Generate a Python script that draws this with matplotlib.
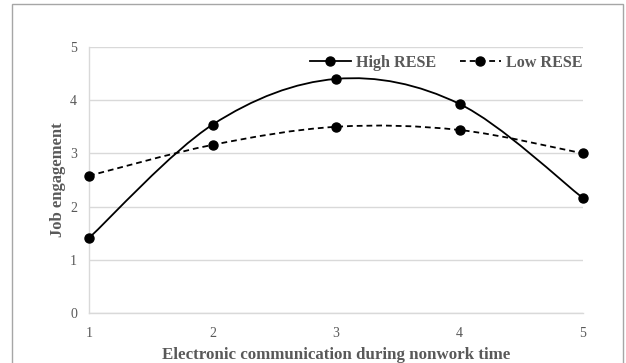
import numpy as np
import matplotlib
matplotlib.use("Agg")
import matplotlib.pyplot as plt
from matplotlib.path import Path
from matplotlib.patches import PathPatch, Rectangle
from matplotlib.lines import Line2D

x_vals = [1, 2, 3, 4, 5]
high_rese = [1.41, 3.54, 4.40, 3.93, 2.16]
low_rese = [2.58, 3.16, 3.50, 3.44, 3.00]
series_names = ["High RESE", "Low RESE"]
y_ticks = [0, 1, 2, 3, 4, 5]
x_label = "Electronic communication during nonwork time"
y_label = "Job engagement"

plt.rcParams['font.family'] = ['Liberation Serif', 'DejaVu Serif']
TXT = '#595959'
GRID = '#d9d9d9'

fig = plt.figure(figsize=(6.26, 3.63), dpi=100)
ax = fig.add_axes([89/626, 1-313/363, (583-89)/626, (313-47)/363])

# outer chart border
fig.patches.append(Rectangle((12/626, -0.05), (623-12)/626, 1.05 - 4/363,
                             transform=fig.transFigure, fill=False,
                             edgecolor='#a6a6a6', linewidth=1.0))


def smooth_path(xs, ys):
    """Excel-like smoothing: Catmull-Rom converted to cubic Bezier segments."""
    pts = np.column_stack([xs, ys]).astype(float)
    n = len(pts)
    verts = [pts[0]]
    codes = [Path.MOVETO]
    for i in range(n - 1):
        p0 = pts[i - 1] if i > 0 else pts[i]
        p1 = pts[i]
        p2 = pts[i + 1]
        p3 = pts[i + 2] if i + 2 < n else pts[i + 1]
        c1 = p1 + (p2 - p0) / 6.0
        c2 = p2 - (p3 - p1) / 6.0
        verts += [c1, c2, p2]
        codes += [Path.CURVE4] * 3
    return Path(verts, codes)


dash = (0, (3.2, 2.2))
styles = ['-', dash]
for ys, st in zip([high_rese, low_rese], styles):
    patch = PathPatch(smooth_path(x_vals, ys), fill=False, edgecolor='black',
                      linewidth=1.3, linestyle=st, zorder=3)
    ax.add_patch(patch)
    ax.plot(x_vals, ys, 'o', color='black', markersize=6.5, zorder=4,
            clip_on=False)

ax.set_xlim(1, 5)
ax.set_ylim(0, 5)
ax.set_xticks(x_vals)
ax.set_yticks(y_ticks)
ax.yaxis.grid(True, color=GRID, linewidth=1.0)
ax.set_axisbelow(True)
for s in ['top', 'right']:
    ax.spines[s].set_visible(False)
for s in ['left', 'bottom']:
    ax.spines[s].set_color(GRID)
    ax.spines[s].set_linewidth(1.0)
ax.tick_params(axis='both', length=0, labelsize=10, labelcolor=TXT)
ax.tick_params(axis='y', pad=8.5)
ax.tick_params(axis='x', pad=10)

ax.set_xlabel(x_label, fontsize=12.2, fontweight='bold', color=TXT, labelpad=5)
ax.set_ylabel(y_label, fontsize=12, fontweight='bold', color=TXT, labelpad=3)

handles = [
    Line2D([], [], color='black', lw=1.3, ls='-', marker='o', markersize=6.5),
    Line2D([], [], color='black', lw=1.3, ls=dash, marker='o', markersize=6.5),
]
leg = ax.legend(handles, series_names, loc='upper right', ncol=2, frameon=False,
                numpoints=1, handlelength=2.55, handletextpad=0.3, columnspacing=1.5,
                bbox_to_anchor=(1.028, 1.025),
                prop={'size': 11.6, 'weight': 'bold'})
for t in leg.get_texts():
    t.set_color(TXT)

fig.savefig("out.png", dpi=100)
